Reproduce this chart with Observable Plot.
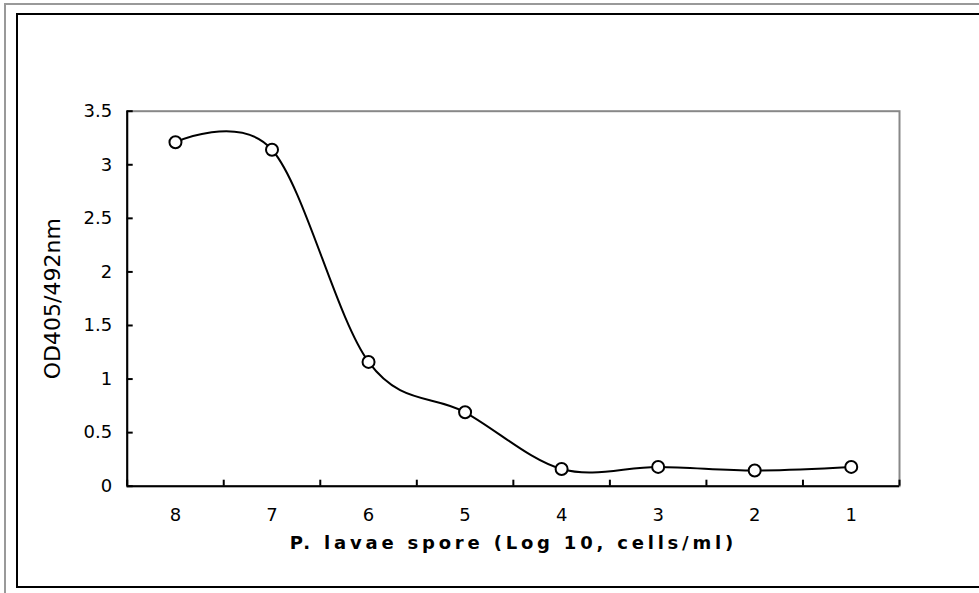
<!DOCTYPE html>
<html><head><meta charset="utf-8">
<script src="https://cdn.jsdelivr.net/npm/d3@7"></script>
<script src="https://cdn.jsdelivr.net/npm/@observablehq/plot@0.6"></script>
<style>
html,body{margin:0;padding:0;background:#fff;}
#wrap{position:relative;width:979px;height:593px;overflow:hidden;background:#fff;}
.outer{position:absolute;left:4px;top:3px;width:1000px;height:1000px;border-left:2px solid #999;border-top:2px solid #999;box-sizing:border-box}
.inner{position:absolute;left:16px;top:13px;width:1000px;height:575px;border:2px solid #000;border-right:none;box-sizing:border-box}
#chart{position:absolute;left:0;top:0}
</style>
</head><body>
<div id="wrap"><div class="outer"></div><div class="inner"></div><div id="chart"></div></div>
<script>
const categories = [8, 7, 6, 5, 4, 3, 2, 1];
const od = [3.21, 3.14, 1.16, 0.69, 0.16, 0.18, 0.147, 0.18];
const yTicks = [0, 0.5, 1, 1.5, 2, 2.5, 3, 3.5];
const xTitle = "P. lavae spore (Log 10, cells/ml)";
const yTitle = "OD405/492nm";

const data = categories.map((c, i) => ({dose: c, od: od[i]}));
const bounds = d3.range(categories.length + 1).map(i => categories[0] + 0.5 - i);

const chart = Plot.plot({
  width: 979, height: 593,
  marginLeft: 126.7, marginRight: 80, marginTop: 110.7, marginBottom: 107.3,
  x: {type: "linear", domain: [categories[0] + 0.5, categories[categories.length - 1] - 0.5]},
  y: {domain: [0, 3.5]},
  style: {fontFamily: "DejaVu Sans", background: "transparent", color: "#000"},
  marks: [
    Plot.frame({stroke: "#888", strokeWidth: 2}),
    Plot.axisX(categories, {tickSize: 0, tickPadding: 22, fontSize: 18, tickFormat: d => String(d), label: null}),
    Plot.axisX(bounds, {tickSize: 6, dy: -6, tickFormat: () => "", strokeWidth: 2, label: null}),
    Plot.axisY(yTicks, {tickSize: 0, tickPadding: 15, fontSize: 18, tickFormat: d => String(d), label: null}),
    Plot.axisY(yTicks, {tickSize: 6, dx: 6, tickFormat: () => "", strokeWidth: 2, label: null}),
    Plot.ruleY([0], {strokeWidth: 2}),
    Plot.ruleX([categories[0] + 0.5], {strokeWidth: 2}),
    Plot.line(data, {x: "dose", y: "od", curve: "cardinal", strokeWidth: 2, stroke: "black"}),
    Plot.dot(data, {x: "dose", y: "od", r: 6, fill: "white", stroke: "black", strokeWidth: 2}),
    Plot.text([yTitle], {frameAnchor: "left", textAnchor: "middle", dx: -74, rotate: -90, fontSize: 22, text: d => d}),
    Plot.text([xTitle], {frameAnchor: "bottom", textAnchor: "middle", dy: 63, fontSize: 18, fontWeight: "bold", text: d => d})
  ]
});
d3.select(chart).selectAll("text")
  .filter(function () { return this.textContent === xTitle; })
  .attr("letter-spacing", "3.8px");
document.getElementById("chart").appendChild(chart);
</script>
</body></html>
